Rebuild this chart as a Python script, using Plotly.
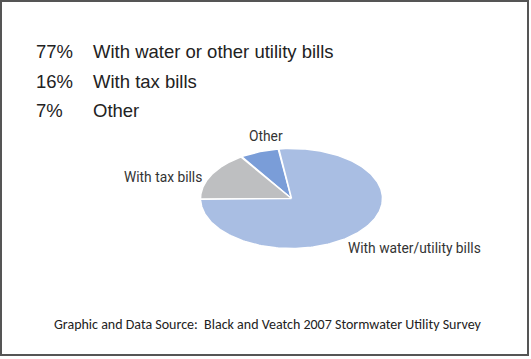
import numpy as np
import plotly.graph_objects as go

# ---- data ----
categories = ["Other", "With tax bills", "With water/utility bills"]
shares = [7, 16, 77]
slice_colors = ["#7A9DD8", "#BEBFC1", "#A9BEE3"]
summary_pct = ["77%", "16%", "7%"]
summary_txt = ["With water or other utility bills", "With tax bills", "Other"]
source_txt = "Graphic and Data Source:  Black and Veatch 2007 Stormwater Utility Survey"

W, H = 531, 359
cx, cy, rx, ry = 291.5, 198.5, 91, 50
start_deg = 8.0  # ccw from top

fig = go.Figure()
vals = np.array(shares, dtype=float)
frac = vals / vals.sum() * 360.0
a = start_deg
for cat, f, col in zip(categories, frac, slice_colors):
    ang = np.radians(np.linspace(a, a + f, 200))
    xs = np.concatenate([[cx], cx - rx * np.sin(ang), [cx]])
    ys = np.concatenate([[cy], cy - ry * np.cos(ang), [cy]])
    fig.add_trace(go.Scatter(x=xs, y=ys, mode="lines", fill="toself",
                             fillcolor=col, line=dict(color="white", width=1.5),
                             name=cat, hoverinfo="name", showlegend=False))
    a += f

ann = []
ys_lines = [51, 81.5, 110]
for p, t, y in zip(summary_pct, summary_txt, ys_lines):
    ann.append(dict(x=34, y=y, text=p, xanchor="left", yanchor="middle", showarrow=False,
                    font=dict(family="Liberation Sans, Arial", size=18.5, color="#222")))
    ann.append(dict(x=90.5, y=y, text=t, xanchor="left", yanchor="middle", showarrow=False,
                    font=dict(family="Liberation Sans, Arial", size=18.5, color="#222")))

lab_font = dict(family="Roboto, Arial", size=13.8, color="#333")
ann.append(dict(x=266, y=136, text=categories[0], xanchor="center", yanchor="middle", showarrow=False, font=lab_font))
ann.append(dict(x=122, y=177, text=categories[1], xanchor="left", yanchor="middle", showarrow=False, font=lab_font))
ann.append(dict(x=345.5, y=248, text=categories[2], xanchor="left", yanchor="middle", showarrow=False, font=lab_font))

ann.append(dict(x=267.5, y=324, text=source_txt, xanchor="center", yanchor="middle", showarrow=False,
                font=dict(family="Carlito, Lato, Open Sans", size=14, color="#222")))

fig.update_layout(
    width=W, height=H, margin=dict(l=0, r=0, t=0, b=0),
    paper_bgcolor="white", plot_bgcolor="white",
    xaxis=dict(range=[0, W], visible=False, fixedrange=True),
    yaxis=dict(range=[H, 0], visible=False, fixedrange=True),
    annotations=ann,
    shapes=[dict(type="rect", xref="x", yref="y", x0=1, y0=1, x1=528, y1=355,
                 line=dict(color="#555", width=2))],
)
fig.write_html("out.html", config={"displayModeBar": False},
               post_script="document.body.style.margin='0';document.body.style.overflow='hidden';")
